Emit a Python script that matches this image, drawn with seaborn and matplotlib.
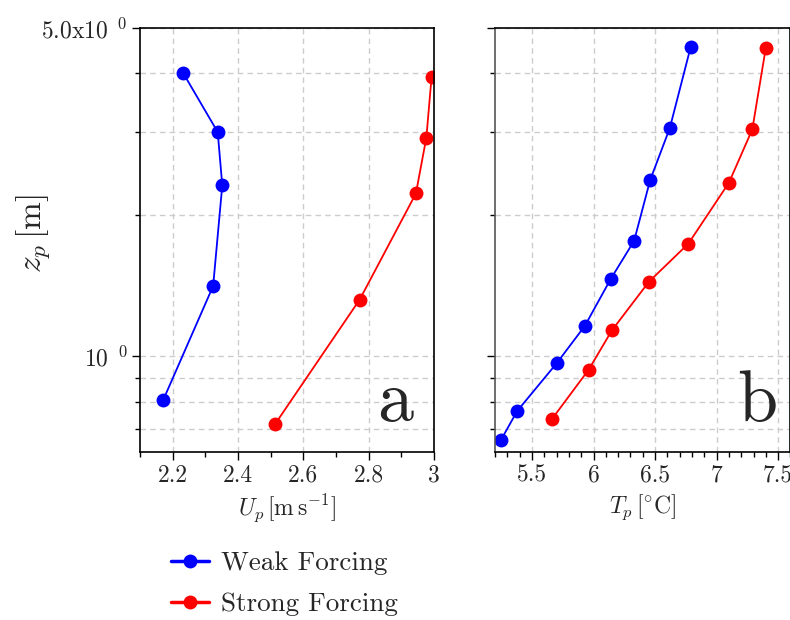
import matplotlib
matplotlib.use("Agg")
import matplotlib.pyplot as plt
import matplotlib.ticker as mticker
import seaborn as sns

# depth (m) and values
z_weak_u = [4.01, 3.00, 2.31, 1.41, 0.806]
u_weak = [2.232, 2.338, 2.352, 2.324, 2.171]
z_strong_u = [3.93, 2.92, 2.22, 1.32, 0.717]
u_strong = [2.993, 2.977, 2.945, 2.773, 2.514]

z_weak_t = [4.56, 3.06, 2.37, 1.76, 1.46, 1.16, 0.965, 0.764, 0.664]
t_weak = [6.79, 6.62, 6.46, 6.33, 6.14, 5.93, 5.70, 5.38, 5.25]
z_strong_t = [4.54, 3.04, 2.34, 1.735, 1.44, 1.135, 0.935, 0.736]
t_strong = [7.40, 7.29, 7.10, 6.77, 6.45, 6.15, 5.96, 5.665]

labels = ["Weak Forcing", "Strong Forcing"]
colors = ["blue", "red"]

y_major = [1.0, 5.0]
y_major_labels = [r"$10^{\ \ 0}$", r"$5.0\mathrm{x}10^{\ \ 0}$"]
y_minor = [0.7, 0.8, 0.9, 2, 3, 4]

sns.set_style("white")
plt.rcParams["font.family"] = "serif"
plt.rcParams["font.serif"] = ["cmr10", "DejaVu Serif"]
plt.rcParams["mathtext.fontset"] = "cm"
plt.rcParams["axes.formatter.use_mathtext"] = True

fig = plt.figure(figsize=(7.9, 6.2), dpi=100)
ax1 = fig.add_axes([0.1772, 0.271, 0.372, 0.684])
ax2 = fig.add_axes([0.6266, 0.271, 0.374, 0.684])

for ax, xs, zs in [(ax1, [u_weak, u_strong], [z_weak_u, z_strong_u]),
                   (ax2, [t_weak, t_strong], [z_weak_t, z_strong_t])]:
    for x, z, c, lab in zip(xs, zs, colors, labels):
        sns.lineplot(x=x, y=z, ax=ax, sort=False, estimator=None, color=c,
                     marker="o", markersize=10, markeredgewidth=0,
                     linewidth=1.3, label=lab, legend=False)
    ax.set_yscale("log")
    ax.set_ylim(0.625, 5.0)
    ax.yaxis.set_major_locator(mticker.FixedLocator(y_major))
    ax.yaxis.set_minor_locator(mticker.FixedLocator(y_minor))
    ax.yaxis.set_minor_formatter(mticker.NullFormatter())
    ax.grid(True, which="both", axis="y", color="#cccccc", linestyle=(0, (4, 3)), linewidth=1)
    ax.grid(True, which="major", axis="x", color="#cccccc", linestyle=(0, (4, 3)), linewidth=1)
    ax.tick_params(which="major", direction="out", length=5.5, width=1, labelsize=17,
                   left=True, bottom=True, color="black")
    ax.tick_params(which="minor", direction="out", length=3.5, width=1,
                   left=True, bottom=True, color="black")
    for s in ax.spines.values():
        s.set_color("black")
        s.set_linewidth(1.2)

ax1.yaxis.set_major_formatter(mticker.FixedFormatter(y_major_labels))
ax1.set_xlim(2.1, 3.0)
ax1.xaxis.set_major_locator(mticker.FixedLocator([2.2, 2.4, 2.6, 2.8, 3.0]))
ax1.xaxis.set_major_formatter(mticker.FixedFormatter(["2.2", "2.4", "2.6", "2.8", "3"]))
ax1.xaxis.set_minor_locator(mticker.MultipleLocator(0.1))
ax1.set_xlabel(r"$U_p\,[\mathrm{m\,s^{-1}}]$", fontsize=17)
ax1.set_ylabel(r"$z_p\,[\mathrm{m}]$", fontsize=24)
ax1.yaxis.set_label_coords(-0.30, 0.515)
ax1.text(0.93, 0.04, "a", transform=ax1.transAxes, fontsize=52, ha="right", va="bottom")

ax2.set_xlim(5.2, 7.6)
ax2.xaxis.set_major_locator(mticker.FixedLocator([5.5, 6, 6.5, 7, 7.5]))
ax2.xaxis.set_major_formatter(mticker.FixedFormatter(["5.5", "6", "6.5", "7", "7.5"]))
ax2.xaxis.set_minor_locator(mticker.MultipleLocator(0.1))
ax2.yaxis.set_major_formatter(mticker.NullFormatter())
ax2.spines["left"].set_color("#555555")
ax2.set_xlabel(r"$T_p\,[^{\circ}\mathrm{C}]$", fontsize=17)
ax2.set_ylabel("")
ax2.text(0.955, 0.04, "b", transform=ax2.transAxes, fontsize=52, ha="right", va="bottom")

handles, labs = ax1.get_legend_handles_labels()
leg = fig.legend(handles, labs, loc="upper left", bbox_to_anchor=(0.186, 0.15),
                 frameon=False, fontsize=19.5, handlelength=1.4, labelspacing=0.62,
                 handletextpad=0.45)
for h in leg.legend_handles:
    h.set_linewidth(2.5)

fig.savefig("out.png", dpi=100)
